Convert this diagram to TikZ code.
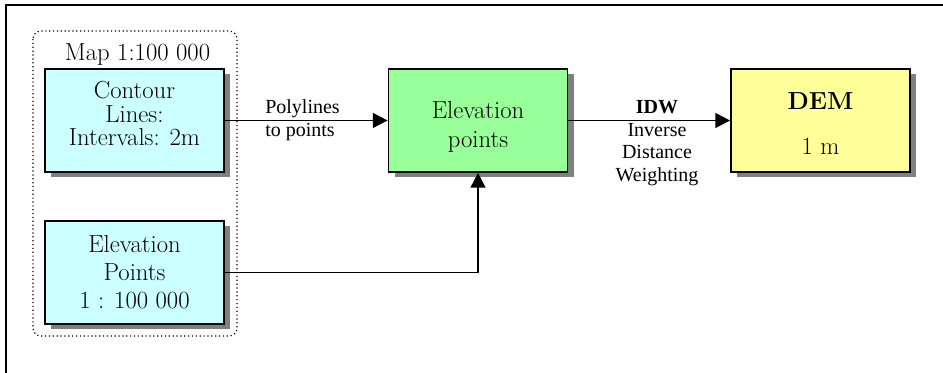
\documentclass[tikz,border=0pt]{standalone}
\usepackage{fontspec}
\newfontfamily\lblfont{Liberation Serif}
\usetikzlibrary{arrows.meta, shadows}
\definecolor{mapcyan}{HTML}{CCFFFF}
\definecolor{ptsgreen}{HTML}{99FF99}
\definecolor{demyellow}{HTML}{FFFF99}
\definecolor{shadowgray}{HTML}{808080}
\newcommand{\topstrut}[1]{\rule{0pt}{#1}}
\newcommand{\botstrut}[1]{\rule[-#1]{0pt}{#1}}

\begin{document}
\begin{tikzpicture}[x=0.75pt, y=-0.75pt,
	databox/.style={draw=black, line width=1.3pt, minimum width=134.25pt, minimum height=77.25pt,
		inner sep=0pt, align=center, font=\fontsize{18.5}{17.6}\selectfont,
		drop shadow={shadow xshift=4.5pt, shadow yshift=-4pt, fill=shadowgray, opacity=1}},
	flowlbl/.style={inner sep=0pt, font=\lblfont\fontsize{15}{17}\selectfont},
	flow/.style={line width=1.4pt, -{Triangle[length=11pt, width=11pt]}}]
	\useasboundingbox (0,0) rectangle (943,373);
	\draw[line width=1.5pt] (5.5,373) -- (5.5,5) -- (943,5);
	\draw[dotted, line width=0.9pt, rounded corners=6pt] (33,31) rectangle (237,336);
	\node[anchor=base, inner sep=0pt, font=\fontsize{18.5}{17.6}\selectfont] (maplbl) at (137.5,60.7) {Map 1:100 000};
	\node[databox, fill=mapcyan] (contour) at (134.5,120.5) {Contour\\Lines:\\Intervals: 2m\botstrut{10.5pt}};
	\node[databox, fill=mapcyan] (elevsrc) at (134.5,272.5) {Elevation\\[3.4pt]Points\\[3.4pt]1 : 100 000};
	\node[databox, fill=ptsgreen] (elevpts) at (478,120.5) {\topstrut{22.5pt}Elevation\\[4.1pt]points};
	\node[databox, fill=demyellow] (dem) at (820.5,120.5) {\topstrut{17.2pt}\textbf{DEM}\\[15.9pt]1 m};
	\draw[flow] (contour.east) -- (elevpts.west);
	\draw[flow] (elevsrc.east) -| (elevpts.south);
	\draw[flow] (elevpts.east) -- (dem.west);
	\node[flowlbl, anchor=north west, align=left] (polylbl) at (265,99.5) {Polylines\\to points};
	\node[flowlbl, anchor=north, align=center] (idwlbl) at (657,100) {\textbf{IDW}\\Inverse\\Distance\\Weighting};
\end{tikzpicture}
\end{document}
